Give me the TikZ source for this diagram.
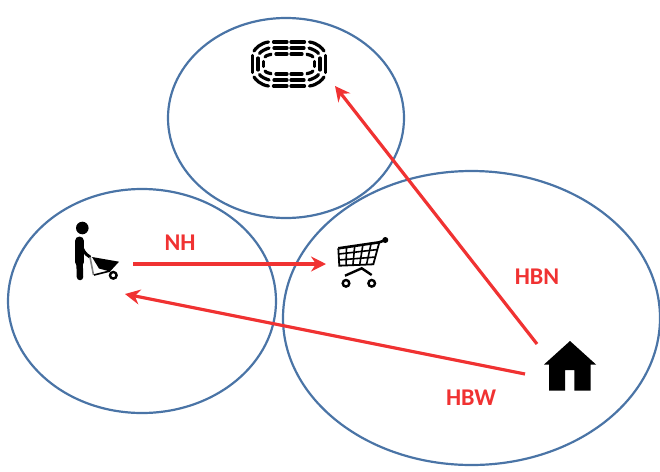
\documentclass[tikz,border=0pt]{standalone}
\usepackage{fontspec}
\setmainfont{Carlito}
\usetikzlibrary{calc,arrows.meta}
\definecolor{zoneblue}{HTML}{4A74A6}
\definecolor{triptred}{HTML}{F03232}
\tikzset{
    zone/.style={draw=zoneblue,line width=2.2pt},
    trip/.style={draw=triptred,line width=3.2pt,-{Stealth[length=15pt,width=15pt,inset=5pt]}},
    triplabel/.style={text=triptred,font=\fontsize{24}{24}\selectfont\bfseries,inner sep=0pt},
    stand/.style={line width=3.2pt,line cap=round}
}
\begin{document}
\begin{tikzpicture}[x=1pt,y=-1pt]
    \useasboundingbox (0,0) rectangle (660,471);
    \coordinate (stadium) at (289,64);
    \coordinate (top) at (286,118);
    \coordinate (left) at (142,301);
    \coordinate (right) at (471.5,318);
    \coordinate (worktail) at (133,264);
    \coordinate (shop) at (326,264);
    \coordinate (homeW) at (525,374);
    \coordinate (work) at (125,294);
    \coordinate (homeN) at (537,344);
    \coordinate (stadiumend) at (335,86);
    \draw[zone] (top) ellipse (118 and 100);
    \draw[zone] (left) ellipse (134 and 112);
    \draw[zone] (right) ellipse (188.5 and 147);
    % stadium
    \begin{scope}[shift={(stadium)}]
        \foreach \a/\b/\s/\c in {36.5/22/8.5/20.5,31/16/6/20,25.5/10/2.5/18}{
            \draw[stand] (-\a,-\s) -- (-\a,\s);
            \draw[stand] (\a,-\s) -- (\a,\s);
            \foreach \u in {1,-1}{
                \foreach \v in {1,-1}{
                    \draw[stand] (\u*2,\v*\b) -- (\u*\c-\u*5,\v*\b);
                    \draw[stand] (\u*\c,\v*\b) .. controls (\u*\a-\u*8,\v*\b-\v*1) and (\u*\a-\u*3,\v*\s+\v*7) .. (\u*\a-\u*1.5,\v*\s+\v*4.5);
                }
            }
        }
    \end{scope}
    % walker with barrow
    \fill (82.3,228) circle (6.3);
    \draw[line width=9pt,line cap=round] (79.5,241) -- (79.5,262);
    \draw[line width=6.5pt,line cap=round] (79.5,260) -- (80,277);
    \draw[line width=3pt,line cap=round] (81,243) .. controls (82,250) and (85,254) .. (90,257);
    \draw[gray,line width=1.6pt] (90,257) -- (93.5,275);
    \fill (92,257) -- (119,261.7) -- (110,271.5) -- (99,268.5) -- cycle;
    \draw[line width=1.6pt] (94,275) -- (110,271);
    \draw[line width=2.4pt,fill=white] (113.3,275.3) circle (3.3);
    % cart
    \coordinate (c1) at (338.3,248.3);
    \coordinate (c2) at (379.3,242.3);
    \coordinate (c3) at (373.3,264.3);
    \coordinate (c4) at (339.3,265.7);
    \draw[line width=1.8pt] (c2) -- (c3) -- (c4) -- (c1);
    \draw[line width=2.6pt] (c1) -- (c2) -- (385.3,240);
    \fill (385.3,240) circle (3);
    \foreach \t in {0.2,0.4,0.6,0.8}
        \draw[line width=1.6pt] ($(c1)!\t!(c2)$) -- ($(c4)!\t!(c3)$);
    \foreach \t in {0.33,0.67}
        \draw[line width=1.6pt] ($(c1)!\t!(c4)$) -- ($(c2)!\t!(c3)$);
    \draw[line width=2.4pt] (345,275.7) -- (361.7,268.3) -- (371.7,275);
    \draw[line width=2.4pt,fill=white] (346,283.3) circle (3.3);
    \draw[line width=2.4pt,fill=white] (371.7,283.3) circle (3.3);
    % house
    \fill (570,341) -- (596,364.5) -- (590.7,364.5) -- (590.7,390.7) -- (574.3,390.7) -- (574.3,370) -- (565,370) -- (565,390.7) -- (549,390.7) -- (549,364.5) -- (544,364.5) -- cycle;
    % trips
    \draw[trip] (worktail) -- (shop);
    \draw[trip] (homeW) -- (work);
    \draw[trip] (homeN) -- (stadiumend);
    \node[triplabel] (nh) at (180,243) {NH};
    \node[triplabel] (hbn) at (537,277) {HBN};
    \node[triplabel] (hbw) at (471,398) {HBW};
\end{tikzpicture}
\end{document}
